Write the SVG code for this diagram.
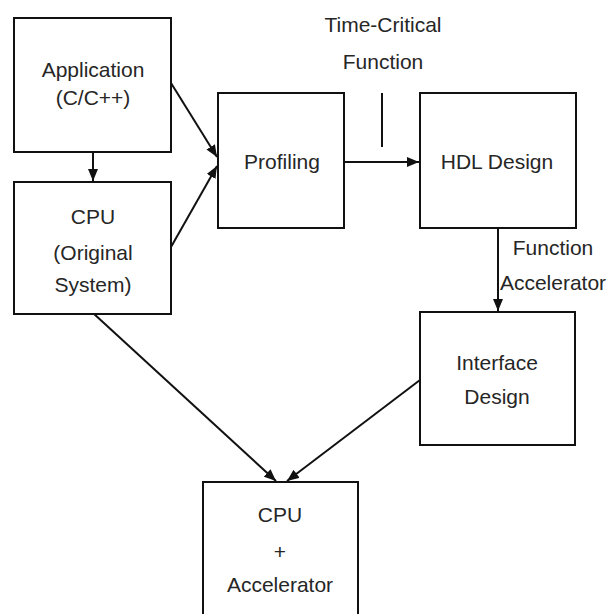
<svg xmlns="http://www.w3.org/2000/svg" width="607" height="614" viewBox="0 0 607 614">
<defs>
<marker id="ah" viewBox="0 0 12 10" refX="12" refY="5" markerWidth="12" markerHeight="10" markerUnits="userSpaceOnUse" orient="auto">
<path d="M0,0 L12,5 L0,10 z" fill="#111"/>
</marker>
<style>
.box{fill:#fff;stroke:#111;stroke-width:2}
.t{font-family:"Liberation Sans",Arial,sans-serif;font-size:21px;fill:#262626;text-anchor:middle}
.c{stroke:#111;stroke-width:2;fill:none}
.a{marker-end:url(#ah)}
</style>
</defs>
<rect width="607" height="614" fill="#fff"/>
<g id="connectors">
<line class="c a" x1="93" y1="152" x2="93" y2="181"/>
<line class="c a" x1="171" y1="83" x2="217" y2="157"/>
<line class="c a" x1="171" y1="247" x2="217" y2="166"/>
<line class="c a" x1="344" y1="162" x2="419" y2="162"/>
<line class="c" x1="382" y1="93" x2="382" y2="147"/>
<line class="c a" x1="498" y1="228" x2="498" y2="311"/>
<line class="c a" x1="93" y1="313" x2="276" y2="481"/>
<line class="c a" x1="420" y1="380" x2="287" y2="481"/>
</g>
<g id="label-time-critical">
<text class="t" x="383" y="32">Time-Critical</text>
<text class="t" x="383" y="69">Function</text>
</g>
<g id="label-function-accelerator">
<text class="t" x="553" y="255">Function</text>
<text class="t" x="553" y="290">Accelerator</text>
</g>
<g id="application">
<rect class="box" x="14" y="18" width="157" height="134"/>
<text class="t" x="93" y="77">Application</text>
<text class="t" x="93" y="105">(C/C++)</text>
</g>
<g id="cpu-original">
<rect class="box" x="14" y="182" width="157" height="132"/>
<text class="t" x="93" y="224">CPU</text>
<text class="t" x="93" y="260">(Original</text>
<text class="t" x="93" y="292">System)</text>
</g>
<g id="profiling">
<rect class="box" x="218" y="93" width="126" height="135"/>
<text class="t" x="282" y="169">Profiling</text>
</g>
<g id="hdl-design">
<rect class="box" x="420" y="93" width="156" height="135"/>
<text class="t" x="497" y="169">HDL Design</text>
</g>
<g id="interface-design">
<rect class="box" x="420" y="312" width="155" height="133"/>
<text class="t" x="497" y="370">Interface</text>
<text class="t" x="497" y="404">Design</text>
</g>
<g id="cpu-accelerator">
<rect class="box" x="203" y="482" width="155" height="140"/>
<text class="t" x="280" y="522">CPU</text>
<text class="t" x="280" y="559">+</text>
<text class="t" x="280" y="592">Accelerator</text>
</g>
</svg>
